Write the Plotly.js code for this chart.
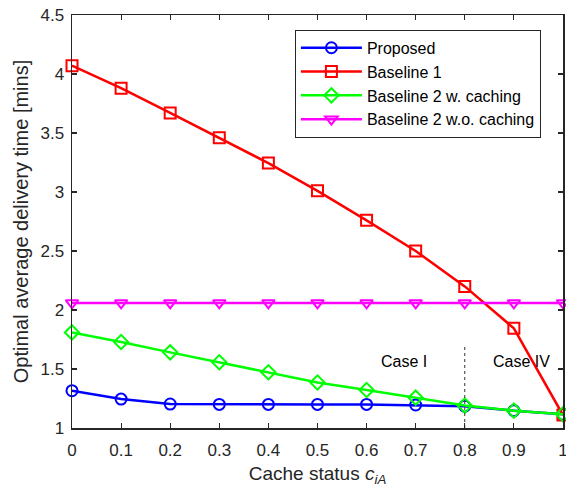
<!DOCTYPE html>
<html><head><meta charset="utf-8">
<script src="https://cdn.plot.ly/plotly-3.0.1.min.js"></script>
<style>body{margin:0;padding:0;background:#fff}#chart{width:566px;height:487px}</style>
</head><body><div id="chart"></div>
<script>
const cacheStatus = [0, 0.1, 0.2, 0.3, 0.4, 0.5, 0.6, 0.7, 0.8, 0.9, 1.0];
const proposed = [1.316, 1.245, 1.203, 1.200, 1.200, 1.200, 1.200, 1.195, 1.185, 1.147, 1.116];
const baseline1 = [4.07, 3.88, 3.67, 3.46, 3.245, 3.01, 2.76, 2.50, 2.20, 1.845, 1.11];
const baseline2wCaching = [1.81, 1.729, 1.641, 1.557, 1.472, 1.386, 1.322, 1.257, 1.19, 1.147, 1.116];
const baseline2woCaching = [2.06, 2.06, 2.06, 2.06, 2.06, 2.06, 2.06, 2.06, 2.06, 2.06, 2.06];
const seriesNames = ['Proposed', 'Baseline 1', 'Baseline 2 w. caching', 'Baseline 2 w.o. caching'];
const xTicks = [0, 0.1, 0.2, 0.3, 0.4, 0.5, 0.6, 0.7, 0.8, 0.9, 1];
const xTickText = ['0', '0.1', '0.2', '0.3', '0.4', '0.5', '0.6', '0.7', '0.8', '0.9', '1'];
const yTicks = [1, 1.5, 2, 2.5, 3, 3.5, 4, 4.5];
const yTickText = ['1', '1.5', '2', '2.5', '3', '3.5', '4', '4.5'];
const divider = {x: [0.8, 0.8], y: [1.0, 1.71]};
const caseLabels = [{x: 0.677, y: 1.56, text: 'Case I'}, {x: 0.915, y: 1.56, text: 'Case IV'}];

const font = 'Arial, "Liberation Sans", sans-serif';
function tr(y, name, color, symbol) {
  return {x: cacheStatus, y: y, name: name, type: 'scatter', mode: 'lines+markers', cliponaxis: false,
    line: {color: color, width: 2.5},
    marker: {symbol: symbol, size: 11, color: color, line: {color: color, width: 2}}};
}
const data = [
  tr(proposed, seriesNames[0], '#0000ff', 'circle-open'),
  tr(baseline1, seriesNames[1], '#ff0000', 'square-open'),
  tr(baseline2wCaching, seriesNames[2], '#00ff00', 'diamond-open'),
  tr(baseline2woCaching, seriesNames[3], '#ff00ff', 'triangle-down-open'),
  {x: divider.x, y: divider.y, type: 'scatter', mode: 'lines', showlegend: false,
   line: {color: '#333', width: 1, dash: 'dot'}, hoverinfo: 'skip'}
];
const axisCommon = {showline: true, linecolor: '#262626', linewidth: 1.5, mirror: 'ticks',
  ticks: 'inside', ticklen: 5, tickwidth: 1.2, tickcolor: '#262626', showgrid: false, zeroline: false,
  tickfont: {family: font, size: 17, color: '#262626'}};
const layout = {
  width: 566, height: 487,
  margin: {l: 72, r: 3, t: 15, b: 59},
  paper_bgcolor: '#fff', plot_bgcolor: '#fff',
  font: {family: font, color: '#262626'},
  xaxis: Object.assign({}, axisCommon, {range: [0, 1.0001], tickvals: xTicks, ticktext: xTickText,
    ticklabeloverflow: 'allow', ticklabelstandoff: 6,
    title: {text: 'Cache status <i>c</i><sub><i>iA</i></sub>', font: {family: font, size: 19, color: '#262626'}, standoff: 9}}),
  yaxis: Object.assign({}, axisCommon, {range: [1, 4.5], tickvals: yTicks, ticktext: yTickText,
    ticklabelstandoff: 3,
    title: {text: 'Optimal average delivery time [mins]', font: {family: font, size: 20, color: '#262626'}, standoff: 6}}),
  legend: {x: 0.454, y: 0.964, xanchor: 'left', yanchor: 'top', bgcolor: '#fff',
    bordercolor: '#262626', borderwidth: 1, font: {family: font, size: 16, color: '#000'},
    itemwidth: 61, tracegroupgap: 0},
  annotations: caseLabels.map(c => ({x: c.x, y: c.y, xref: 'x', yref: 'y', text: c.text, showarrow: false,
    font: {family: font, size: 16, color: '#000'}})),
  showlegend: true
};
Plotly.newPlot('chart', data, layout, {staticPlot: true, displayModeBar: false});
</script></body></html>
